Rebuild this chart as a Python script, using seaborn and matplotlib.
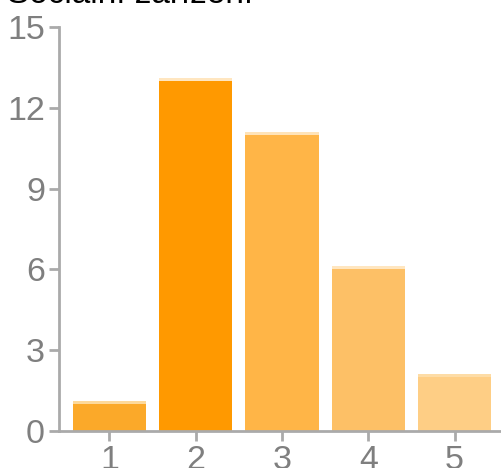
import pandas as pd
import numpy as np
import matplotlib
matplotlib.use("Agg")
import matplotlib.pyplot as plt
import seaborn as sns

# values
categories = ["1", "2", "3", "4", "5"]
counts = [1, 13, 11, 6, 2]
bar_colors = ["#FBA929", "#FF9900", "#FFB547", "#FDC066", "#FECE85"]
cap_colors = ["#FDD99A", "#FFE6C0", "#FFE3B8", "#FFE6C0", "#FDDCA6"]
title = "Sociální zařízení"

df = pd.DataFrame({"answer": categories, "count": counts})
cap = 0.12  # thin light strip on top of each bar (style only)
df["capped"] = df["count"] + cap

sns.set_theme(style="white")
plt.rcParams["font.family"] = ["Liberation Sans", "DejaVu Sans"]

fig = plt.figure(figsize=(5.02, 4.68), dpi=100)
ax = fig.add_axes([59 / 502, 37 / 468, 1 - 59 / 502, 404 / 468])

sns.barplot(data=df, x="answer", y="capped", hue="answer",
            palette=dict(zip(categories, cap_colors)), width=0.85,
            legend=False, ax=ax, saturation=1, linewidth=0)
sns.barplot(data=df, x="answer", y="count", hue="answer",
            palette=dict(zip(categories, bar_colors)), width=0.85,
            legend=False, ax=ax, saturation=1, linewidth=0)

ax.set_xlim(-0.585, 4.55)
ax.set_ylim(0, 15)
ax.set_yticks([0, 3, 6, 9, 12, 15])
ax.set_xlabel("")
ax.set_ylabel("")

for side in ["top", "right"]:
    ax.spines[side].set_visible(False)
for side in ["left", "bottom"]:
    ax.spines[side].set_color("#AAAAAA")
    ax.spines[side].set_linewidth(2)

ax.tick_params(axis="both", which="major", direction="out", length=7,
               width=2, color="#AAAAAA", labelcolor="#7F7F7F",
               labelsize=24.5, pad=3, left=True, bottom=True)

fig.text(7 / 502, 1 - 3 / 468, title, fontsize=24, color="black",
         ha="left", va="baseline")

fig.savefig("out.png", dpi=100)
